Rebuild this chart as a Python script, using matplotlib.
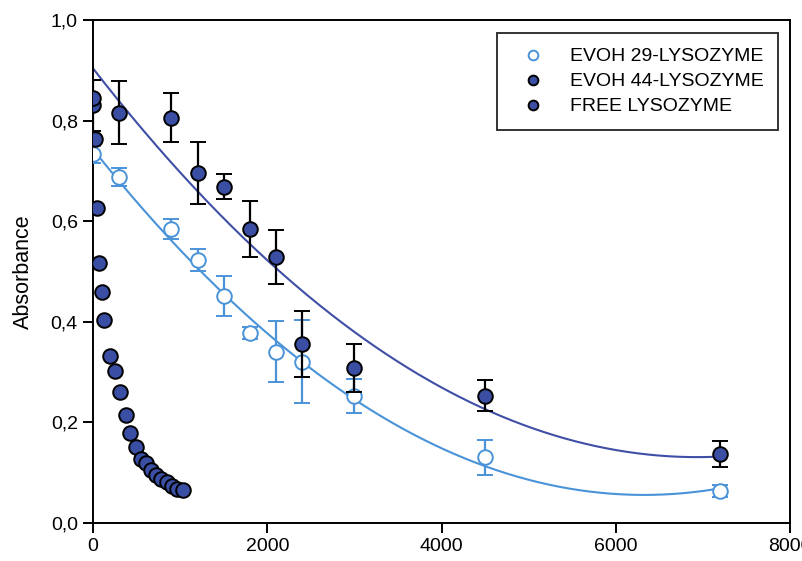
import numpy as np
import matplotlib
matplotlib.use("Agg")
import matplotlib.pyplot as plt
from matplotlib.ticker import FuncFormatter

plt.rcParams['font.family'] = ['Liberation Sans', 'DejaVu Sans']

# EVOH 29 film with lysozyme
t_evoh29 = [0, 300, 900, 1200, 1500, 1800, 2100, 2400, 3000, 4500, 7200]
abs_evoh29 = [0.733, 0.688, 0.584, 0.523, 0.451, 0.378, 0.341, 0.321, 0.252, 0.131, 0.064]
err_evoh29 = [0.017, 0.018, 0.020, 0.022, 0.040, 0.012, 0.060, 0.083, 0.034, 0.035, 0.012]

# EVOH 44 film with lysozyme
t_evoh44 = [0, 300, 900, 1200, 1500, 1800, 2100, 2400, 3000, 4500, 7200]
abs_evoh44 = [0.831, 0.816, 0.806, 0.696, 0.669, 0.585, 0.529, 0.356, 0.309, 0.253, 0.137]
err_evoh44 = [0.051, 0.063, 0.049, 0.062, 0.025, 0.056, 0.053, 0.066, 0.048, 0.031, 0.026]

# Free lysozyme
t_free = [0, 23, 50, 72, 100, 130, 192, 253, 310, 375, 429, 494, 548, 609,
          663, 724, 782, 847, 908, 969, 1031]
abs_free = [0.846, 0.763, 0.627, 0.518, 0.460, 0.404, 0.332, 0.302, 0.261,
            0.215, 0.180, 0.152, 0.127, 0.119, 0.105, 0.095, 0.087, 0.081,
            0.074, 0.068, 0.066]

light = '#4a93d8'
dark = '#3a4fa3'
dark_line = '#3f4fa6'

fig = plt.figure(figsize=(8.02, 5.61), dpi=100)
ax = fig.add_axes([0.116, 0.0677, 0.869, 0.8963])

# quadratic regression curves
xs = np.linspace(0, 7200, 300)
c29 = np.polyfit(t_evoh29, abs_evoh29, 2)
c44 = np.polyfit(t_evoh44, abs_evoh44, 2)
ax.plot(xs, np.polyval(c29, xs), color=light, lw=1.5, zorder=2)
ax.plot(xs, np.polyval(c44, xs), color=dark_line, lw=1.5, zorder=2)

ms = 10.5
ax.errorbar(t_evoh29, abs_evoh29, yerr=err_evoh29, fmt='o', ms=ms,
            mfc='white', mec=light, mew=1.4, ecolor=light, elinewidth=1.6,
            capsize=6, capthick=1.6, zorder=3)
ax.errorbar(t_evoh44, abs_evoh44, yerr=err_evoh44, fmt='o', ms=ms,
            mfc=dark, mec='black', mew=1.4, ecolor='black', elinewidth=1.6,
            capsize=6, capthick=1.6, zorder=4)
ax.plot(t_free, abs_free, 'o', ms=ms, mfc=dark, mec='black', mew=1.4, zorder=5)

# legend handles: markers only
h1, = ax.plot([], [], 'o', ms=7, mfc='white', mec=light, mew=1.4,
              label='EVOH 29-LYSOZYME')
h2, = ax.plot([], [], 'o', ms=7, mfc=dark, mec='black', mew=1.4,
              label='EVOH 44-LYSOZYME')
h3, = ax.plot([], [], 'o', ms=7, mfc=dark, mec='black', mew=1.4,
              label='FREE LYSOZYME')
leg = ax.legend(handles=[h1, h2, h3], loc='upper right',
                bbox_to_anchor=(0.983, 0.974), fontsize=14, frameon=True,
                fancybox=False, edgecolor='black', borderpad=0.75,
                handlelength=2.2, handletextpad=0.8, labelspacing=0.38,
                borderaxespad=0)
leg.get_frame().set_linewidth(1.4)

ax.set_xlim(0, 8000)
ax.set_ylim(0, 1.0)
ax.set_xticks([0, 2000, 4000, 6000, 8000])
ax.set_yticks([0, 0.2, 0.4, 0.6, 0.8, 1.0])
ax.yaxis.set_major_formatter(FuncFormatter(lambda v, p: f'{v:.1f}'.replace('.', ',')))
ax.tick_params(direction='out', length=7, width=1.4, labelsize=14, pad=4,
               top=False, right=False)
for s in ax.spines.values():
    s.set_linewidth(1.4)
ax.set_ylabel('Absorbance', fontsize=15.5, labelpad=12)

fig.savefig('out.png', dpi=100)
